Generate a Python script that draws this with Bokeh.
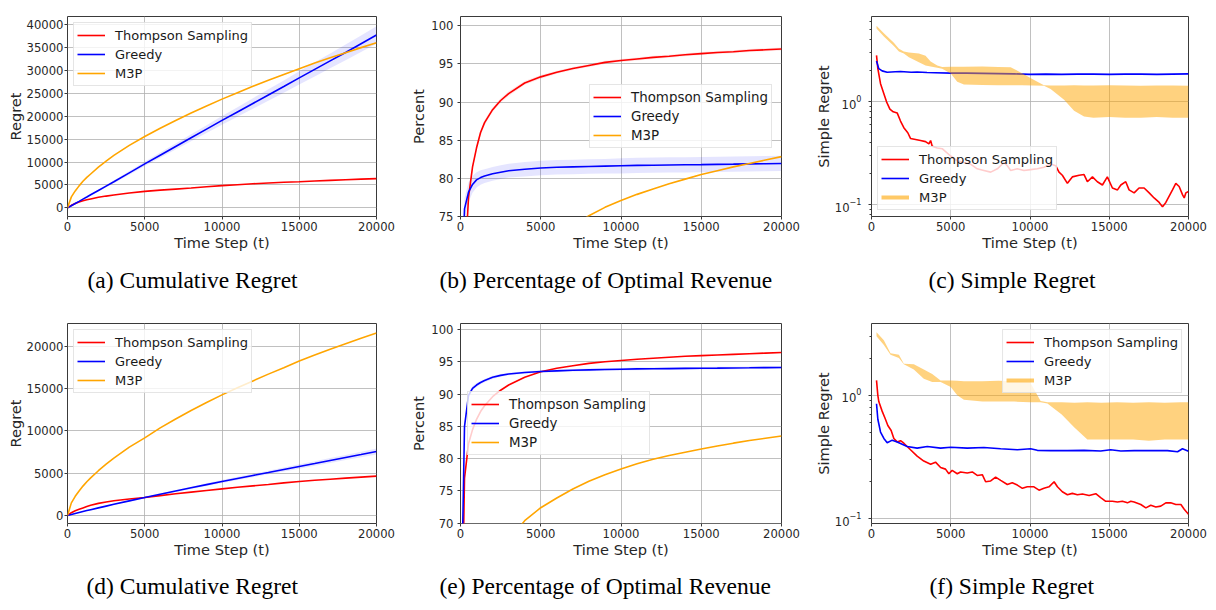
from bokeh.plotting import figure
from bokeh.layouts import gridplot
from bokeh.models import Range1d, FixedTicker, Legend, LegendItem, Title
from bokeh.embed import file_html
from bokeh.resources import INLINE

# ---------------- data ----------------
T = [0, 250, 500, 750, 1000, 1250, 1500, 2000, 2500, 3000, 4000, 5000, 6000, 7000, 8000,
     9000, 10000, 11000, 12000, 13000, 14000, 15000, 16000, 17000, 18000, 19000, 20000]
series_names = ["Thompson Sampling", "Greedy", "M3P"]
x_ticks = [0, 5000, 10000, 15000, 20000]
captions = ["(a) Cumulative Regret", "(b) Percentage of Optimal Revenue", "(c) Simple Regret",
            "(d) Cumulative Regret", "(e) Percentage of Optimal Revenue", "(f) Simple Regret"]

# (a) cumulative regret, setting 1
cum1_ts = [0, 550, 950, 1280, 1550, 1770, 1950, 2300, 2570, 2800, 3250, 3600, 3870, 4100,
           4330, 4600, 4850, 5050, 5250, 5420, 5580, 5700, 5850, 6000, 6140, 6270, 6380]
cum1_greedy = [0, 470, 950, 1420, 1900, 2370, 2850, 3800, 4750, 5700, 7650, 9600, 11500,
               13400, 15300, 17200, 19100, 20950, 22800, 24650, 26500, 28400, 30250, 32100,
               33950, 35850, 37750]
cum1_greedy_sd = [0, 20, 50, 75, 100, 125, 150, 200, 250, 300, 400, 480, 580, 670, 770, 860,
                  960, 1050, 1150, 1240, 1340, 1430, 1530, 1620, 1720, 1810, 1900]
cum1_m3p = [0, 2400, 3700, 4800, 5800, 6650, 7400, 8900, 10200, 11450, 13650, 15600, 17400,
            19100, 20700, 22250, 23750, 25150, 26550, 27850, 29150, 30400, 31650, 32800,
            33900, 35000, 36050]

# (b) percentage of optimal revenue, setting 1
pct1_ts = [40, 68, 77.5, 81.5, 84.0, 86.0, 87.3, 89.0, 90.2, 91.1, 92.5, 93.3, 93.9, 94.4,
           94.8, 95.2, 95.45, 95.65, 95.85, 96.0, 96.2, 96.35, 96.5, 96.6, 96.75, 96.85, 96.95]
pct1_ts_sd = [0.3, 0.3, 0.35, 0.35, 0.35, 0.35, 0.35, 0.3, 0.3, 0.3, 0.25, 0.25, 0.2, 0.2,
              0.2, 0.2, 0.2, 0.2, 0.2, 0.2, 0.2, 0.2, 0.2, 0.2, 0.2, 0.2, 0.2]
pct1_greedy = [60, 76, 78.2, 79.2, 79.8, 80.1, 80.3, 80.6, 80.8, 81.0, 81.2, 81.35, 81.45,
               81.5, 81.55, 81.6, 81.65, 81.7, 81.72, 81.75, 81.78, 81.8, 81.83, 81.86, 81.9,
               81.92, 81.95]
pct1_greedy_sd = [1.5, 1.4, 1.3, 1.1, 1.0, 0.95, 0.9, 0.9, 0.9, 0.9, 0.95, 0.95, 0.95, 0.95,
                  0.95, 0.95, 1.0, 1.0, 1.0, 1.0, 1.0, 1.0, 1.0, 1.0, 1.0, 1.0, 1.0]
pct1_m3p = [30, 40, 45, 49, 52, 54, 56, 59, 61.7, 64, 67.5, 70, 72, 73.7, 75.1, 76.2, 77.1,
            77.9, 78.6, 79.3, 79.9, 80.5, 81.0, 81.5, 81.95, 82.4, 82.85]

# (c) simple regret, setting 1
sr1_ts_t = [316, 400, 570, 780, 950, 1160, 1370, 1620, 1830, 2040, 2290, 2460, 2780, 3090,
            3410, 3620, 3730, 3830, 4150, 4460, 4990, 5410, 5830, 6250, 6670, 7090, 7520,
            7940, 8360, 8570, 8780, 9200, 9620, 10040, 10460, 10880, 11300, 11620, 11830,
            12040, 12360, 12670, 13100, 13410, 13620, 13940, 14250, 14570, 14880, 15200,
            15520, 15730, 16040, 16250, 16570, 16880, 17200, 17520, 17830, 18150, 18360,
            18570, 18780, 18990, 19200, 19410, 19620, 19730, 19830, 20000]
sr1_ts = [2.83, 2.1, 1.5, 1.2, 1.0, 0.85, 0.8, 0.78, 0.65, 0.56, 0.5, 0.44, 0.43, 0.42,
          0.41, 0.39, 0.42, 0.37, 0.356, 0.35, 0.297, 0.267, 0.257, 0.248, 0.223, 0.215, 0.207,
          0.223, 0.257, 0.239, 0.215, 0.223, 0.215, 0.219, 0.223, 0.231, 0.248, 0.239, 0.207,
          0.193, 0.161, 0.186, 0.193, 0.196, 0.167, 0.186, 0.167, 0.155, 0.186, 0.145,
          0.139, 0.155, 0.167, 0.139, 0.13, 0.145, 0.145, 0.13, 0.116, 0.105, 0.095,
          0.105, 0.121, 0.139, 0.161, 0.15, 0.125, 0.116, 0.13, 0.134]
sr1_greedy_t = [316, 460, 670, 990, 1500, 1830, 2500, 2880, 3500, 4000, 5000, 6000, 7000,
                8000, 9000, 10000, 11000, 12000, 13000, 14000, 15000, 16000, 17000, 18000,
                19000, 20000]
sr1_greedy = [2.5, 2.1, 2.0, 1.94, 1.96, 1.97, 1.94, 1.95, 1.93, 1.92, 1.90, 1.90, 1.89,
              1.88, 1.87, 1.85, 1.86, 1.85, 1.86, 1.86, 1.85, 1.86, 1.86, 1.85, 1.86, 1.87]
sr1_m3p_t = [316, 780, 1410, 1730, 2040, 2360, 2990, 3410, 3730, 4150, 4460, 5000, 5410,
             5830, 7000, 8000, 8780, 9500, 10200, 10880, 11300, 12150, 12780, 13410, 14000,
             15000, 16000, 17000, 18000, 19000, 20000]
sr1_m3p_hi = [5.5, 4.65, 3.75, 3.29, 3.08, 3.02, 2.95, 2.81, 2.47, 2.26, 2.18, 2.19, 2.19,
              2.19, 2.2, 2.18, 2.17, 1.9, 1.65, 1.45, 1.44, 1.44, 1.45, 1.44, 1.44,
              1.45, 1.44, 1.43, 1.44, 1.44, 1.43]
sr1_m3p_lo = [5.18, 4.33, 3.49, 3.08, 2.95, 2.71, 2.43, 2.26, 2.21, 2.15, 2.10, 1.89, 1.57,
              1.47, 1.46, 1.45, 1.45, 1.45, 1.44, 1.43, 1.33, 1.05, 0.82, 0.72, 0.70,
              0.71, 0.70, 0.70, 0.71, 0.70, 0.70]

# (d) cumulative regret, setting 2
cum2_ts = [0, 330, 560, 740, 900, 1060, 1200, 1430, 1600, 1750, 1950, 2130, 2350, 2560,
           2760, 2960, 3150, 3330, 3500, 3670, 3850, 4020, 4160, 4290, 4410, 4530, 4650]
cum2_greedy = [0, 120, 240, 355, 470, 580, 690, 900, 1110, 1320, 1730, 2130, 2510, 2890,
               3270, 3650, 4020, 4380, 4730, 5080, 5440, 5790, 6140, 6500, 6850, 7200, 7560]
cum2_greedy_sd = [0, 5, 10, 15, 20, 25, 30, 40, 48, 55, 70, 90, 105, 120, 140, 155, 170,
                  190, 205, 220, 240, 255, 270, 290, 305, 320, 340]
cum2_m3p = [0, 1490, 2270, 2900, 3470, 3980, 4440, 5290, 6060, 6780, 8080, 9170, 10350,
            11400, 12400, 13350, 14250, 15100, 15900, 16700, 17450, 18250, 18950, 19650,
            20300, 20950, 21570]

# (e) percentage of optimal revenue, setting 2
pct2_ts = [40, 77, 82.3, 84.5, 86.1, 87.3, 88.2, 89.6, 90.6, 91.4, 92.6, 93.45, 94.0, 94.4,
           94.75, 95.0, 95.2, 95.4, 95.55, 95.7, 95.85, 95.95, 96.05, 96.15, 96.25, 96.35, 96.45]
pct2_greedy = [50, 85, 89.8, 90.9, 91.4, 91.8, 92.1, 92.6, 92.9, 93.1, 93.35, 93.5, 93.6,
               93.7, 93.75, 93.8, 93.85, 93.9, 93.92, 93.95, 93.98, 94.0, 94.02, 94.05, 94.07,
               94.1, 94.12]
pct2_greedy_sd = [0.6, 0.5, 0.4, 0.35, 0.3, 0.28, 0.25, 0.25, 0.22, 0.2, 0.2, 0.2, 0.2, 0.2,
                  0.2, 0.2, 0.2, 0.2, 0.2, 0.2, 0.2, 0.2, 0.2, 0.2, 0.2, 0.2, 0.2]
pct2_m3p = [30, 42, 48, 52.5, 56, 58, 60, 63, 65.3, 67.3, 70.4, 72.4, 73.9, 75.3, 76.5, 77.5,
            78.4, 79.2, 79.9, 80.5, 81.0, 81.5, 81.95, 82.4, 82.8, 83.15, 83.5]

# (f) simple regret, setting 2
sr2_ts_t = [316, 400, 460, 670, 880, 1030, 1240, 1410, 1620, 1830, 2040, 2460, 2880, 3300,
            3730, 4040, 4360, 4670, 4880, 5090, 5410, 5620, 6040, 6360, 6670, 6990, 7200,
            7520, 7830, 8150, 8570, 8880, 9200, 9520, 9830, 10250, 10570, 10880, 11200,
            11520, 11730, 12040, 12360, 12670, 12990, 13310, 13730, 14150, 14460, 14780,
            15200, 15520, 15830, 16150, 16360, 16570, 16990, 17310, 17620, 17940, 18250,
            18570, 18880, 19200, 19520, 19730, 20000]
sr2_ts = [1.32, 1.0, 0.89, 0.745, 0.64, 0.57, 0.52, 0.448, 0.42, 0.43, 0.41, 0.363, 0.322,
          0.294, 0.277, 0.288, 0.261, 0.253, 0.232, 0.247, 0.232, 0.24, 0.235, 0.24, 0.225,
          0.228, 0.2, 0.203, 0.218, 0.205, 0.19, 0.196, 0.188, 0.177, 0.182, 0.182, 0.171,
          0.177, 0.182, 0.2, 0.182, 0.166, 0.157, 0.161, 0.157, 0.159, 0.155, 0.16, 0.149,
          0.139, 0.139, 0.137, 0.139, 0.135, 0.139, 0.137, 0.131, 0.123, 0.129, 0.125,
          0.127, 0.135, 0.135, 0.131, 0.131, 0.12, 0.109]
sr2_greedy_t = [316, 400, 570, 780, 990, 1310, 1620, 2250, 2880, 3520, 4360, 5000, 6040,
                7090, 8150, 9200, 10040, 10460, 11300, 12360, 13410, 14460, 15090, 15730,
                16570, 17620, 18670, 19310, 19620, 20000]
sr2_greedy = [0.855, 0.64, 0.505, 0.448, 0.414, 0.434, 0.42, 0.385, 0.374, 0.385, 0.374,
              0.38, 0.374, 0.378, 0.37, 0.363, 0.37, 0.359, 0.357, 0.357, 0.359, 0.355,
              0.363, 0.355, 0.357, 0.358, 0.357, 0.35, 0.37, 0.353]
sr2_m3p_t = [316, 780, 1200, 1730, 2040, 2670, 3300, 3830, 4360, 5000, 5410, 5830, 7000,
             8000, 9000, 10000, 10670, 11100, 12000, 12800, 13620, 14500, 15500, 16500,
             17500, 18500, 19500, 20000]
sr2_m3p_hi = [3.24, 2.79, 2.19, 2.13, 1.8, 1.78, 1.62, 1.49, 1.32, 1.32, 1.31, 1.3, 1.3,
              1.31, 1.3, 1.28, 0.9, 0.88, 0.88, 0.87, 0.88, 0.87, 0.88, 0.87, 0.88, 0.87,
              0.88, 0.88]
sr2_m3p_lo = [3.01, 2.55, 2.13, 2.0, 1.78, 1.62, 1.36, 1.28, 1.28, 1.17, 1.0, 0.92, 0.89,
              0.89, 0.89, 0.88, 0.88, 0.86, 0.7, 0.55, 0.44, 0.44, 0.44, 0.44, 0.43, 0.44,
              0.44, 0.44]

# ---------------- styling helpers ----------------
RED, BLUE, ORANGE = "red", "blue", "orange"
LW = 1.6
TICK_COLOR = "#262626"


def make_fig(w, h, bl, br, bt, bb, yr, caption, cap_off, cap_standoff, ylog=False):
    p = figure(width=w, height=h, x_range=Range1d(0, 20000), y_range=Range1d(*yr),
               y_axis_type="log" if ylog else "linear",
               output_backend="svg", toolbar_location=None,
               min_border_left=bl, min_border_right=br, min_border_top=bt, min_border_bottom=bb)
    p.outline_line_color = "#3a3a3a"
    p.outline_line_width = 1
    p.grid.grid_line_color = "#b0b0b0"
    p.grid.grid_line_width = 0.8
    xt = FixedTicker(ticks=x_ticks)
    p.xaxis.ticker = xt
    p.xgrid.ticker = xt
    p.xaxis.axis_label = "Time Step (t)"
    for ax in p.axis:
        ax.axis_line_color = None
        ax.major_label_text_font = "DejaVu Sans"
        ax.major_label_text_font_size = "11.6px"
        ax.major_label_text_color = TICK_COLOR
        ax.axis_label_text_font = "DejaVu Sans"
        ax.axis_label_text_font_size = "14.6px"
        ax.axis_label_text_font_style = "normal"
        ax.axis_label_text_color = TICK_COLOR
        ax.major_tick_out = 3
        ax.major_tick_in = 0
        ax.minor_tick_out = 2
        ax.minor_tick_in = 0
        ax.major_tick_line_color = "#3a3a3a"
        ax.minor_tick_line_color = "#3a3a3a"
    p.xaxis.minor_tick_line_color = None
    p.xaxis.major_label_standoff = 2
    p.xaxis.axis_label_standoff = 0
    cap = Title(text=caption, align="left", offset=cap_off, standoff=cap_standoff,
                vertical_align="bottom",
                text_font="Liberation Serif", text_font_size="23.5px",
                text_font_style="normal", text_color="black")
    p.add_layout(cap, "below")
    return p


def set_yticks(p, ticks, minor=None):
    t = FixedTicker(ticks=ticks, minor_ticks=minor or [])
    p.yaxis.ticker = t
    p.ygrid.ticker = t
    if not minor:
        p.yaxis.minor_tick_line_color = None


def add_legend(p, renderers, location, margin, font_size):
    items = [LegendItem(label=n, renderers=[r]) for n, r in zip(series_names, renderers)]
    lg = Legend(items=items, location=location)
    lg.margin = margin
    lg.padding = 3
    lg.spacing = 1
    lg.glyph_width = 28
    lg.glyph_height = 18
    lg.label_height = 18
    lg.label_standoff = 10
    lg.label_text_font = "DejaVu Sans"
    lg.label_text_font_size = font_size
    lg.label_text_color = "#1a1a1a"
    lg.border_line_color = "#cccccc"
    lg.border_line_width = 1
    lg.background_fill_color = "white"
    lg.background_fill_alpha = 0.8
    p.add_layout(lg)


def band(x, mean, sd):
    lo = [m - s for m, s in zip(mean, sd)]
    hi = [m + s for m, s in zip(mean, sd)]
    return x, lo, hi


# ---------------- (a) ----------------
pa = make_fig(400, 305, 67, 24, 16, 88, (-1890, 41800), captions[0], 20, 22)
set_yticks(pa, [0, 5000, 10000, 15000, 20000, 25000, 30000, 35000, 40000])
pa.yaxis.axis_label = "Regret"
pa.yaxis.major_label_standoff = 1
pa.yaxis.axis_label_standoff = 0
x, lo, hi = band(T, cum1_greedy, cum1_greedy_sd)
pa.varea(x=x, y1=lo, y2=hi, fill_color=BLUE, fill_alpha=0.1)
r1 = pa.line(T, cum1_ts, line_color=RED, line_width=LW)
r2 = pa.line(T, cum1_greedy, line_color=BLUE, line_width=LW)
r3 = pa.line(T, cum1_m3p, line_color=ORANGE, line_width=LW)
add_legend(pa, [r1, r2, r3], "top_left", 6, "13px")

# ---------------- (b) ----------------
pb = make_fig(400, 305, 60, 19, 6, 89, (75, 101.21), captions[1], -21, 23)
set_yticks(pb, [75, 80, 85, 90, 95, 100])
pb.yaxis.axis_label = "Percent"
pb.yaxis.major_label_standoff = 4
pb.yaxis.axis_label_standoff = 1
x, lo, hi = band(T, pct1_ts, pct1_ts_sd)
pb.varea(x=x, y1=lo, y2=hi, fill_color=RED, fill_alpha=0.1)
x, lo, hi = band(T, pct1_greedy, pct1_greedy_sd)
pb.varea(x=x, y1=lo, y2=hi, fill_color=BLUE, fill_alpha=0.1)
r1 = pb.line(T, pct1_ts, line_color=RED, line_width=LW)
r2 = pb.line(T, pct1_greedy, line_color=BLUE, line_width=LW)
r3 = pb.line(T, pct1_m3p, line_color=ORANGE, line_width=LW)
add_legend(pb, [r1, r2, r3], "center_right", 9, "13.4px")

# ---------------- (c) ----------------
log_minor = [0.08, 0.09, 0.2, 0.3, 0.4, 0.5, 0.6, 0.7, 0.8, 0.9, 2, 3, 4, 5, 6, 7, 8, 9]
pc = make_fig(416, 305, 71, 28, 9, 89, (0.0766, 6.76), captions[2], 57, 23, ylog=True)
set_yticks(pc, [0.1, 1], log_minor)
pc.yaxis.axis_label = "Simple Regret"
pc.yaxis.major_label_standoff = 7
pc.yaxis.axis_label_standoff = 0
r1 = pc.line(sr1_ts_t, sr1_ts, line_color=RED, line_width=LW)
r2 = pc.line(sr1_greedy_t, sr1_greedy, line_color=BLUE, line_width=LW)
pc.varea(x=sr1_m3p_t, y1=sr1_m3p_lo, y2=sr1_m3p_hi, fill_color=ORANGE, fill_alpha=0.5)
r3 = pc.line(sr1_m3p_t, sr1_m3p_hi, line_color=ORANGE, line_width=4, line_alpha=0.6, visible=False)
add_legend(pc, [r1, r2, r3], "bottom_left", 6, "13.1px")

# ---------------- (d) ----------------
pd_ = make_fig(400, 305, 67, 24, 18, 87, (-945, 22680), captions[3], 19, 21)
set_yticks(pd_, [0, 5000, 10000, 15000, 20000])
pd_.yaxis.axis_label = "Regret"
pd_.yaxis.major_label_standoff = 1
pd_.yaxis.axis_label_standoff = 0
x, lo, hi = band(T, cum2_greedy, cum2_greedy_sd)
pd_.varea(x=x, y1=lo, y2=hi, fill_color=BLUE, fill_alpha=0.1)
r1 = pd_.line(T, cum2_ts, line_color=RED, line_width=LW)
r2 = pd_.line(T, cum2_greedy, line_color=BLUE, line_width=LW)
r3 = pd_.line(T, cum2_m3p, line_color=ORANGE, line_width=LW)
add_legend(pd_, [r1, r2, r3], "top_left", 6, "13px")

# ---------------- (e) ----------------
pe = make_fig(400, 305, 60, 19, 9, 87, (69.96, 100.93), captions[4], -21, 21)
set_yticks(pe, [70, 75, 80, 85, 90, 95, 100])
pe.yaxis.axis_label = "Percent"
pe.yaxis.major_label_standoff = 4
pe.yaxis.axis_label_standoff = 1
x, lo, hi = band(T, pct2_greedy, pct2_greedy_sd)
pe.varea(x=x, y1=lo, y2=hi, fill_color=BLUE, fill_alpha=0.1)
r1 = pe.line(T, pct2_ts, line_color=RED, line_width=LW)
r2 = pe.line(T, pct2_greedy, line_color=BLUE, line_width=LW)
r3 = pe.line(T, pct2_m3p, line_color=ORANGE, line_width=LW)
add_legend(pe, [r1, r2, r3], "center_left", 7, "13.4px")

# ---------------- (f) ----------------
pf = make_fig(416, 305, 71, 28, 11, 87, (0.0919, 3.81), captions[5], 58, 21, ylog=True)
set_yticks(pf, [0.1, 1], log_minor)
pf.yaxis.axis_label = "Simple Regret"
pf.yaxis.major_label_standoff = 7
pf.yaxis.axis_label_standoff = 0
r1 = pf.line(sr2_ts_t, sr2_ts, line_color=RED, line_width=LW)
r2 = pf.line(sr2_greedy_t, sr2_greedy, line_color=BLUE, line_width=LW)
pf.varea(x=sr2_m3p_t, y1=sr2_m3p_lo, y2=sr2_m3p_hi, fill_color=ORANGE, fill_alpha=0.5)
r3 = pf.line(sr2_m3p_t, sr2_m3p_hi, line_color=ORANGE, line_width=4, line_alpha=0.6, visible=False)
add_legend(pf, [r1, r2, r3], "top_right", 6, "13.1px")

grid = gridplot([[pa, pb, pc], [pd_, pe, pf]], toolbar_location=None)
open("out.html", "w").write(file_html(grid, INLINE))
